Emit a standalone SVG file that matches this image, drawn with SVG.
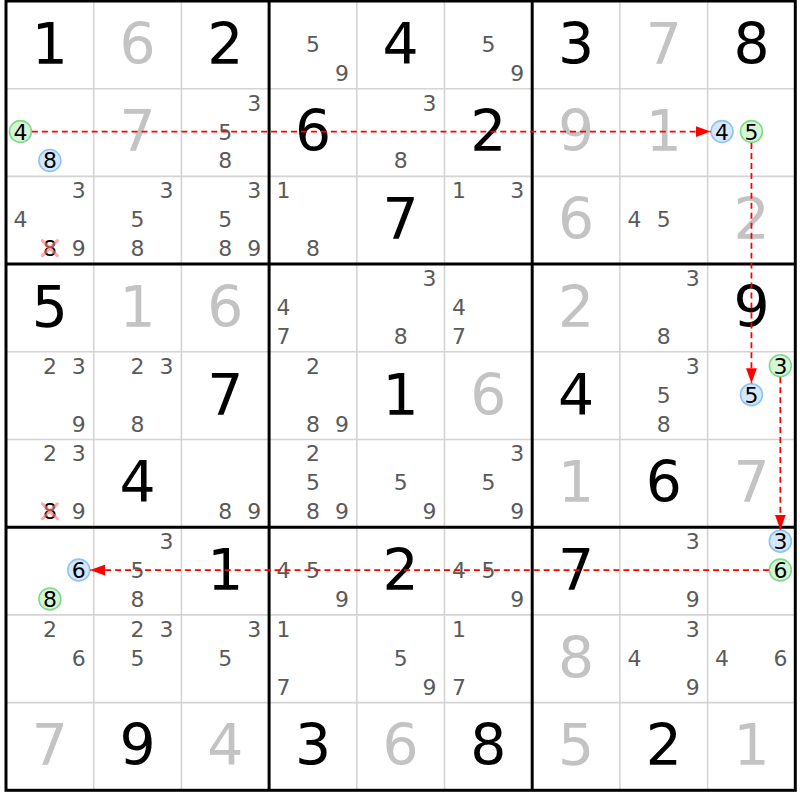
<svg xmlns="http://www.w3.org/2000/svg" width="800" height="800" viewBox="0 0 800 800">
<style>
.thin{stroke:#d4d4d4;stroke-width:1.6;fill:none}
.thick{stroke:#000;stroke-width:3;fill:none}
.big{font-family:"DejaVu Sans",Verdana,sans-serif;font-size:57px;text-anchor:middle}
.g{fill:#000}
.s{fill:#c3c3c3}
.c{font-family:"DejaVu Sans",Verdana,sans-serif;font-size:22px;text-anchor:middle;fill:#5a5a5a}
.h{font-family:"DejaVu Sans",Verdana,sans-serif;font-size:22px;text-anchor:middle;fill:#000}
.cg{fill:#d6f5d6;stroke:#7fd98a;stroke-width:1.6}
.cb{fill:#d3e7fd;stroke:#8fc3f5;stroke-width:1.6}
.x{stroke:#ff7a7a;stroke-opacity:0.65;stroke-width:3;stroke-linecap:round}
.lk{stroke:#ff0000;stroke-width:1.8;stroke-dasharray:6 4;fill:none;marker-end:url(#arr)}
</style>
<defs>
<marker id="arr" viewBox="0 0 15 11" refX="15" refY="5.5" markerWidth="15" markerHeight="11" markerUnits="userSpaceOnUse" orient="auto">
<path d="M0,0 L15,5.5 L0,11 z" fill="#ff0000"/>
</marker>
</defs>
<rect width="800" height="800" fill="#fff"/>
<g transform="translate(6,1) scale(0.99659)">
<g id="grid">
<path class="thin" d="M88,0V792M176,0V792M352,0V792M440,0V792M616,0V792M704,0V792M0,88H792M0,176H792M0,352H792M0,440H792M0,616H792M0,704H792"/>
<path class="thick" d="M264,0V792M528,0V792M0,264H792M0,528H792"/>
<rect class="thick" x="0" y="0" width="792" height="792"/>
</g>
<g id="r0">
<g id="r0c0"><text class="big g" x="44" y="63">1</text></g>
<g id="r0c1"><text class="big s" x="132" y="63">6</text></g>
<g id="r0c2"><text class="big g" x="220" y="63">2</text></g>
<g id="r0c3"><text class="c" x="308" y="51">5</text><text class="c" x="337" y="80">9</text></g>
<g id="r0c4"><text class="big g" x="396" y="63">4</text></g>
<g id="r0c5"><text class="c" x="484" y="51">5</text><text class="c" x="513" y="80">9</text></g>
<g id="r0c6"><text class="big g" x="572" y="63">3</text></g>
<g id="r0c7"><text class="big s" x="660" y="63">7</text></g>
<g id="r0c8"><text class="big g" x="748" y="63">8</text></g>
</g>
<g id="r1">
<g id="r1c0"><circle class="cg" cx="14.5" cy="131" r="11"/><text class="h" x="14.5" y="139">4</text><circle class="cb" cx="44" cy="160" r="11"/><text class="h" x="44" y="168">8</text></g>
<g id="r1c1"><text class="big s" x="132" y="151">7</text></g>
<g id="r1c2"><text class="c" x="249" y="110">3</text><text class="c" x="220" y="139">5</text><text class="c" x="220" y="168">8</text></g>
<g id="r1c3"><text class="big g" x="308" y="151">6</text></g>
<g id="r1c4"><text class="c" x="425" y="110">3</text><text class="c" x="396" y="168">8</text></g>
<g id="r1c5"><text class="big g" x="484" y="151">2</text></g>
<g id="r1c6"><text class="big s" x="572" y="151">9</text></g>
<g id="r1c7"><text class="big s" x="660" y="151">1</text></g>
<g id="r1c8"><circle class="cb" cx="718.5" cy="131" r="11"/><text class="h" x="718.5" y="139">4</text><circle class="cg" cx="748" cy="131" r="11"/><text class="h" x="748" y="139">5</text></g>
</g>
<g id="r2">
<g id="r2c0"><text class="c" x="73" y="198">3</text><text class="c" x="14.5" y="227">4</text><text class="h" x="44" y="256">8</text><path class="x" d="M36.5,240.5L51.5,255.5M51.5,240.5L36.5,255.5"/><text class="c" x="73" y="256">9</text></g>
<g id="r2c1"><text class="c" x="161" y="198">3</text><text class="c" x="132" y="227">5</text><text class="c" x="132" y="256">8</text></g>
<g id="r2c2"><text class="c" x="249" y="198">3</text><text class="c" x="220" y="227">5</text><text class="c" x="220" y="256">8</text><text class="c" x="249" y="256">9</text></g>
<g id="r2c3"><text class="c" x="278.5" y="198">1</text><text class="c" x="308" y="256">8</text></g>
<g id="r2c4"><text class="big g" x="396" y="239">7</text></g>
<g id="r2c5"><text class="c" x="454.5" y="198">1</text><text class="c" x="513" y="198">3</text></g>
<g id="r2c6"><text class="big s" x="572" y="239">6</text></g>
<g id="r2c7"><text class="c" x="630.5" y="227">4</text><text class="c" x="660" y="227">5</text></g>
<g id="r2c8"><text class="big s" x="748" y="239">2</text></g>
</g>
<g id="r3">
<g id="r3c0"><text class="big g" x="44" y="327">5</text></g>
<g id="r3c1"><text class="big s" x="132" y="327">1</text></g>
<g id="r3c2"><text class="big s" x="220" y="327">6</text></g>
<g id="r3c3"><text class="c" x="278.5" y="315">4</text><text class="c" x="278.5" y="344">7</text></g>
<g id="r3c4"><text class="c" x="425" y="286">3</text><text class="c" x="396" y="344">8</text></g>
<g id="r3c5"><text class="c" x="454.5" y="315">4</text><text class="c" x="454.5" y="344">7</text></g>
<g id="r3c6"><text class="big s" x="572" y="327">2</text></g>
<g id="r3c7"><text class="c" x="689" y="286">3</text><text class="c" x="660" y="344">8</text></g>
<g id="r3c8"><text class="big g" x="748" y="327">9</text></g>
</g>
<g id="r4">
<g id="r4c0"><text class="c" x="44" y="374">2</text><text class="c" x="73" y="374">3</text><text class="c" x="73" y="432">9</text></g>
<g id="r4c1"><text class="c" x="132" y="374">2</text><text class="c" x="161" y="374">3</text><text class="c" x="132" y="432">8</text></g>
<g id="r4c2"><text class="big g" x="220" y="415">7</text></g>
<g id="r4c3"><text class="c" x="308" y="374">2</text><text class="c" x="308" y="432">8</text><text class="c" x="337" y="432">9</text></g>
<g id="r4c4"><text class="big g" x="396" y="415">1</text></g>
<g id="r4c5"><text class="big s" x="484" y="415">6</text></g>
<g id="r4c6"><text class="big g" x="572" y="415">4</text></g>
<g id="r4c7"><text class="c" x="689" y="374">3</text><text class="c" x="660" y="403">5</text><text class="c" x="660" y="432">8</text></g>
<g id="r4c8"><circle class="cg" cx="777" cy="366" r="11"/><text class="h" x="777" y="374">3</text><circle class="cb" cx="748" cy="395" r="11"/><text class="h" x="748" y="403">5</text></g>
</g>
<g id="r5">
<g id="r5c0"><text class="c" x="44" y="462">2</text><text class="c" x="73" y="462">3</text><text class="h" x="44" y="520">8</text><path class="x" d="M36.5,504.5L51.5,519.5M51.5,504.5L36.5,519.5"/><text class="c" x="73" y="520">9</text></g>
<g id="r5c1"><text class="big g" x="132" y="503">4</text></g>
<g id="r5c2"><text class="c" x="220" y="520">8</text><text class="c" x="249" y="520">9</text></g>
<g id="r5c3"><text class="c" x="308" y="462">2</text><text class="c" x="308" y="491">5</text><text class="c" x="308" y="520">8</text><text class="c" x="337" y="520">9</text></g>
<g id="r5c4"><text class="c" x="396" y="491">5</text><text class="c" x="425" y="520">9</text></g>
<g id="r5c5"><text class="c" x="513" y="462">3</text><text class="c" x="484" y="491">5</text><text class="c" x="513" y="520">9</text></g>
<g id="r5c6"><text class="big s" x="572" y="503">1</text></g>
<g id="r5c7"><text class="big g" x="660" y="503">6</text></g>
<g id="r5c8"><text class="big s" x="748" y="503">7</text></g>
</g>
<g id="r6">
<g id="r6c0"><circle class="cb" cx="73" cy="571" r="11"/><text class="h" x="73" y="579">6</text><circle class="cg" cx="44" cy="600" r="11"/><text class="h" x="44" y="608">8</text></g>
<g id="r6c1"><text class="c" x="161" y="550">3</text><text class="c" x="132" y="579">5</text><text class="c" x="132" y="608">8</text></g>
<g id="r6c2"><text class="big g" x="220" y="591">1</text></g>
<g id="r6c3"><text class="c" x="278.5" y="579">4</text><text class="c" x="308" y="579">5</text><text class="c" x="337" y="608">9</text></g>
<g id="r6c4"><text class="big g" x="396" y="591">2</text></g>
<g id="r6c5"><text class="c" x="454.5" y="579">4</text><text class="c" x="484" y="579">5</text><text class="c" x="513" y="608">9</text></g>
<g id="r6c6"><text class="big g" x="572" y="591">7</text></g>
<g id="r6c7"><text class="c" x="689" y="550">3</text><text class="c" x="689" y="608">9</text></g>
<g id="r6c8"><circle class="cb" cx="777" cy="542" r="11"/><text class="h" x="777" y="550">3</text><circle class="cg" cx="777" cy="571" r="11"/><text class="h" x="777" y="579">6</text></g>
</g>
<g id="r7">
<g id="r7c0"><text class="c" x="44" y="638">2</text><text class="c" x="73" y="667">6</text></g>
<g id="r7c1"><text class="c" x="132" y="638">2</text><text class="c" x="161" y="638">3</text><text class="c" x="132" y="667">5</text></g>
<g id="r7c2"><text class="c" x="249" y="638">3</text><text class="c" x="220" y="667">5</text></g>
<g id="r7c3"><text class="c" x="278.5" y="638">1</text><text class="c" x="278.5" y="696">7</text></g>
<g id="r7c4"><text class="c" x="396" y="667">5</text><text class="c" x="425" y="696">9</text></g>
<g id="r7c5"><text class="c" x="454.5" y="638">1</text><text class="c" x="454.5" y="696">7</text></g>
<g id="r7c6"><text class="big s" x="572" y="679">8</text></g>
<g id="r7c7"><text class="c" x="689" y="638">3</text><text class="c" x="630.5" y="667">4</text><text class="c" x="689" y="696">9</text></g>
<g id="r7c8"><text class="c" x="718.5" y="667">4</text><text class="c" x="777" y="667">6</text></g>
</g>
<g id="r8">
<g id="r8c0"><text class="big s" x="44" y="767">7</text></g>
<g id="r8c1"><text class="big g" x="132" y="767">9</text></g>
<g id="r8c2"><text class="big s" x="220" y="767">4</text></g>
<g id="r8c3"><text class="big g" x="308" y="767">3</text></g>
<g id="r8c4"><text class="big s" x="396" y="767">6</text></g>
<g id="r8c5"><text class="big g" x="484" y="767">8</text></g>
<g id="r8c6"><text class="big s" x="572" y="767">5</text></g>
<g id="r8c7"><text class="big g" x="660" y="767">2</text></g>
<g id="r8c8"><text class="big s" x="748" y="767">1</text></g>
</g>
<g id="links">
<path class="lk" d="M26,131H707"/>
<path class="lk" d="M748,142.5V383.5"/>
<path class="lk" d="M777,377.5V530.5"/>
<path class="lk" d="M765.5,571H84.5"/>
</g>
</g>
</svg>
